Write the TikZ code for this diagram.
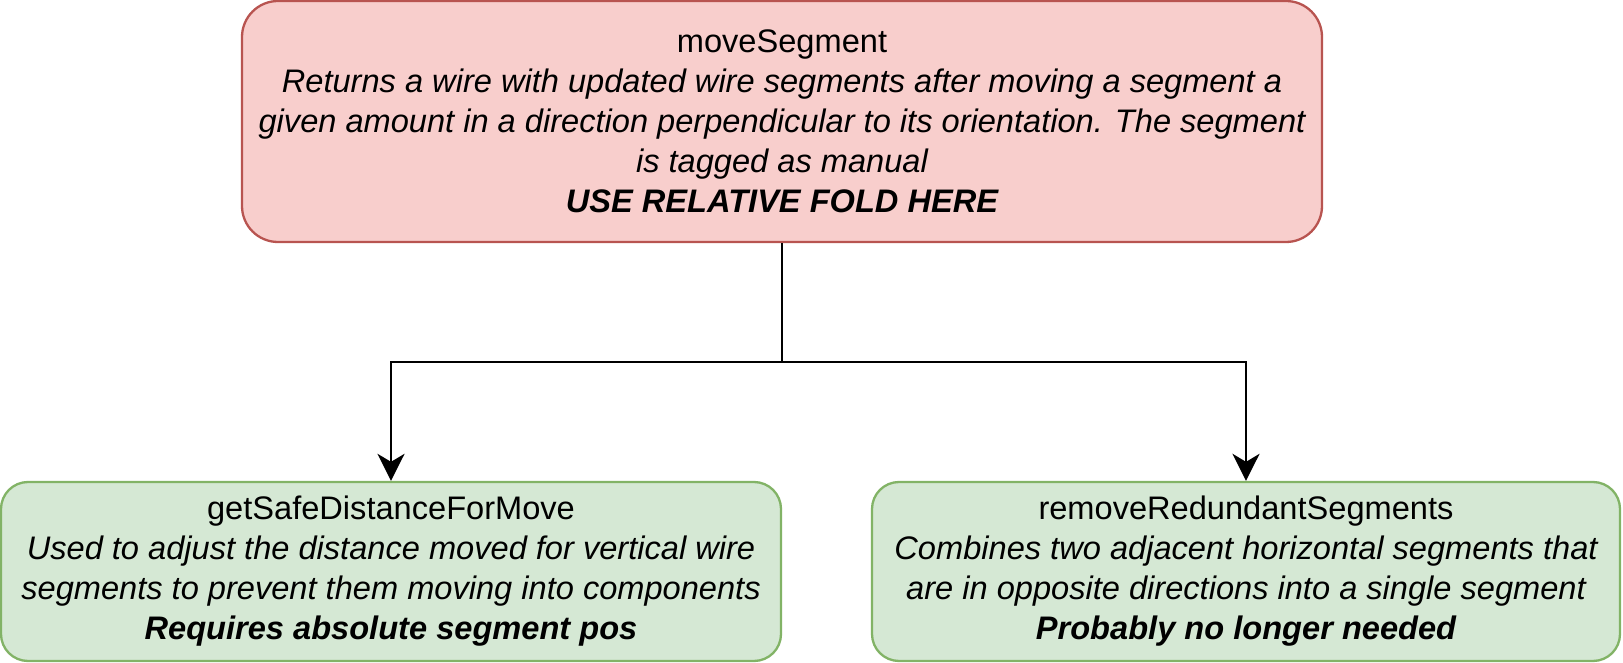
\documentclass[tikz,border=0pt]{standalone}
\usepackage{fontspec}
\setmainfont{Liberation Sans}
\usetikzlibrary{arrows.meta}
\definecolor{redfill}{HTML}{F8CECC}
\definecolor{redline}{HTML}{B85450}
\definecolor{greenfill}{HTML}{D5E8D4}
\definecolor{greenline}{HTML}{82B366}
\tikzset{
  funcbox/.style={draw, line width=1.15pt, align=center, inner sep=0pt,
    font=\fontsize{16.3}{20}\selectfont},
  parentbox/.style={funcbox, fill=redfill, draw=redline, rounded corners=18pt,
    minimum width=540pt, minimum height=120.5pt},
  childbox/.style={funcbox, fill=greenfill, draw=greenline, rounded corners=13.5pt,
    minimum height=89.5pt},
  link/.style={line width=1.45pt, -{Stealth[length=13.5pt,width=13.5pt,inset=4pt]}}
}
\begin{document}
\begin{tikzpicture}[x=1pt,y=1pt]
  \useasboundingbox (0,0) rectangle (811.5,-331.5);
  % top function
  \node[parentbox] (move) at (391,-60.75)
    {moveSegment\\
     \itshape Returns a wire with updated wire segments after moving a segment a\\
     \itshape given amount in a direction perpendicular to its orientation. The segment\\
     \itshape is tagged as manual\\
     \bfseries\itshape USE RELATIVE FOLD HERE};
  % helpers
  \node[childbox, minimum width=390pt] (safe) at (195.5,-285.75)
    {getSafeDistanceForMove\\
     \itshape Used to adjust the distance moved for vertical wire\\
     \itshape segments to prevent them moving into components\\
     \bfseries\itshape Requires absolute segment pos};
  \node[childbox, minimum width=374pt] (redundant) at (623,-285.75)
    {removeRedundantSegments\\
     \itshape Combines two adjacent horizontal segments that\\
     \itshape are in opposite directions into a single segment\\
     \bfseries\itshape Probably no longer needed};
  \coordinate (fork) at (391,-181);
  \draw[link] (move.south) -- (fork) -| (safe.north);
  \draw[link] (fork) -| (redundant.north);
\end{tikzpicture}
\end{document}
